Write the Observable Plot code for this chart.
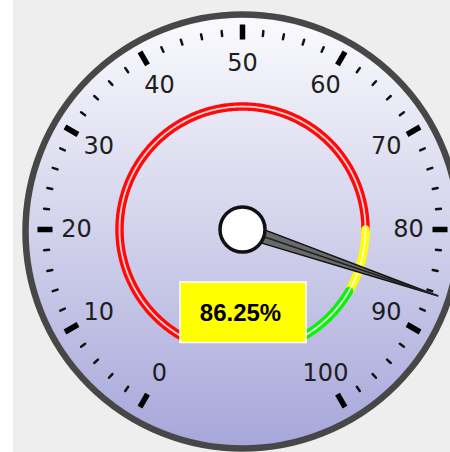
<!DOCTYPE html>
<html><head><meta charset="utf-8">
<script src="https://cdn.jsdelivr.net/npm/d3@7"></script>
<script src="https://cdn.jsdelivr.net/npm/@observablehq/plot@0.6"></script>
<style>body{margin:0;background:#fff}#chart{width:450px;height:452px}</style>
</head><body><div id="chart"></div>
<script>
// ---- data ----
const gaugeValue = 86.25;
const valueLabel = "86.25%";
const majorTicks = [0, 10, 20, 30, 40, 50, 60, 70, 80, 90, 100];
const tickLabels = ["0", "10", "20", "30", "40", "50", "60", "70", "80", "90", "100"];
const minorTicks = [2, 4, 6, 8, 12, 14, 16, 18, 22, 24, 26, 28, 32, 34, 36, 38, 42, 44, 46, 48,
  52, 54, 56, 58, 62, 64, 66, 68, 72, 74, 76, 78, 82, 84, 86, 88, 92, 94, 96, 98];
const bandNames = ["low", "mid", "high"];
const bandStarts = [0, 80, 90];
const bandEnds = [80, 90, 100];
const bandColors = ["#ff0a0a", "#ffff00", "#10ee10"];

// ---- geometry helpers ----
const W = 450, H = 452, CX = 242, CY = 229;
const ang = v => (-150 + 3 * v) * Math.PI / 180;
const px = (v, r) => r * Math.sin(ang(v));
const py = (v, r) => r * Math.cos(ang(v));
const BAND_R = 123;

const bandPts = [];
bandNames.forEach((name, i) => {
  const steps = d3.range(bandStarts[i], bandEnds[i], 0.25).concat([bandEnds[i]]);
  steps.forEach(v => bandPts.push({band: name, color: bandColors[i], x: px(v, BAND_R), y: py(v, BAND_R)}));
});

const a = ang(gaugeValue);
const nHalf = 7.5, nLen = 206;
const needle = [
  {x: nHalf * Math.cos(a), y: -nHalf * Math.sin(a)},
  {x: nLen * Math.sin(a), y: nLen * Math.cos(a)},
  {x: -nHalf * Math.cos(a), y: nHalf * Math.sin(a)}
];
const needleAxis = [{x: 0, y: 0}, {x: nLen * Math.sin(a), y: nLen * Math.cos(a)}];

const svg = Plot.plot({
  width: W, height: H, margin: 0,
  x: {domain: [-CX, W - CX], axis: null},
  y: {domain: [-(H - CY), CY], axis: null},
  color: {type: "identity"},
  style: {background: "linear-gradient(to right,#ffffff 13px,#eeeeee 13px)", overflow: "visible"},
  marks: [
    Plot.dot([0], {x: () => 0, y: () => -2, r: 217, fill: "url(#faceGrad)", stroke: "#474747", strokeWidth: 6.5}),
    Plot.line(bandPts, {x: "x", y: "y", z: "band", stroke: "color", strokeWidth: 8.5}),
    Plot.line(bandPts, {x: "x", y: "y", z: "band", stroke: "#ffffff", strokeOpacity: 0.8, strokeWidth: 1.8}),
    Plot.link(majorTicks, {x1: v => px(v, 190), y1: v => py(v, 190), x2: v => px(v, 205), y2: v => py(v, 205), stroke: "#000", strokeWidth: 5.5}),
    Plot.link(minorTicks, {x1: v => px(v, 194.5), y1: v => py(v, 194.5), x2: v => px(v, 199.5), y2: v => py(v, 199.5), stroke: "#111", strokeWidth: 2.5, strokeLinecap: "round"}),
    Plot.text(majorTicks, {x: v => px(v, 166), y: v => py(v, 166), text: (d, i) => tickLabels[i], fontSize: 24, fontFamily: "DejaVu Sans", fill: "#1e1e1e"}),
    Plot.rect([gaugeValue], {x1: () => px(0, BAND_R) - 0.5, x2: () => px(100, BAND_R) + 2.5, y1: () => -53, y2: () => -113.5, fill: "#ffff00", stroke: "#ffffff", strokeWidth: 1.5}),
    Plot.text([valueLabel], {x: () => -2, y: () => -84, text: d => d, fontSize: 24, fontWeight: "bold", fontFamily: "Liberation Sans, Arial, sans-serif", fill: "#000"}),
    Plot.line(needle, {x: "x", y: "y", curve: "linear-closed", fill: "#6a6a6a", stroke: "#111", strokeWidth: 1.5}),
    Plot.line(needleAxis, {x: "x", y: "y", stroke: "#222", strokeWidth: 1.6}),
    Plot.dot([0], {x: () => 0, y: () => 0, r: 22.5, fill: "#ffffff", stroke: "#111", strokeWidth: 3.5})
  ]
});

const defs = d3.select(svg).insert("defs", ":first-child");
const g = defs.append("linearGradient").attr("id", "faceGrad").attr("x1", 0).attr("y1", 0).attr("x2", 0).attr("y2", 1);
g.append("stop").attr("offset", "0%").attr("stop-color", "#fbfbfe");
g.append("stop").attr("offset", "50%").attr("stop-color", "#d2d2ec");
g.append("stop").attr("offset", "100%").attr("stop-color", "#a6a6da");

document.getElementById("chart").appendChild(svg);
</script>
</body></html>
